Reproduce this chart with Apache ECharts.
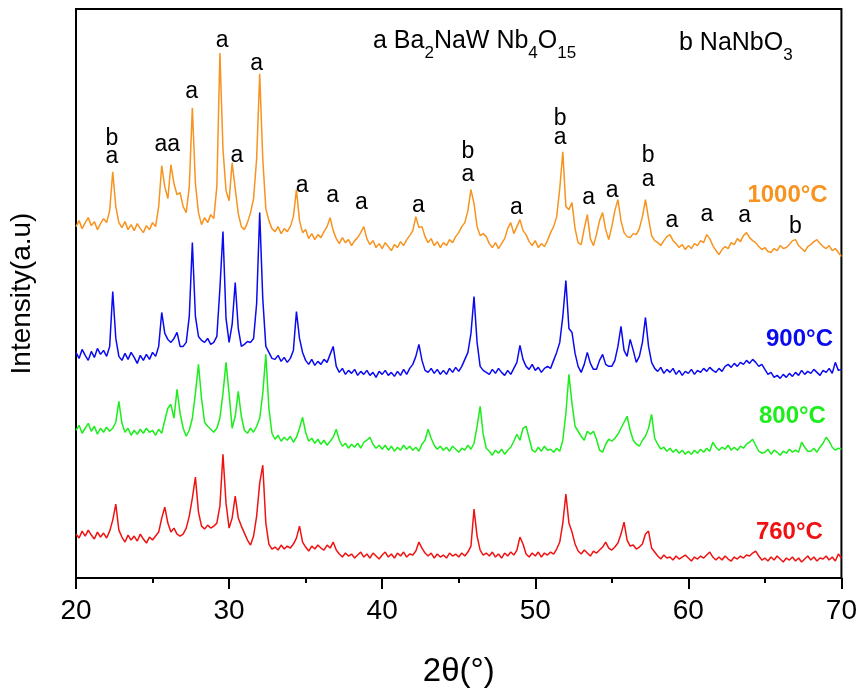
<!DOCTYPE html>
<html><head><meta charset="utf-8">
<script src="https://cdn.jsdelivr.net/npm/echarts@6/dist/echarts.min.js"></script>
<style>html,body{margin:0;padding:0;background:#fff}#c{width:860px;height:693px}</style>
</head><body><div id="c"></div>
<script>
// 2θ sampling: 20.0 .. 70.0, step 0.2 (rows below = one degree each)
const thetaStart = 20, thetaStep = 0.2;

// Offset intensities (a.u.)
const int1000 = [
352,358,350,356,361, 353,357,349,355,360, 356,368,407,372,356, 351,357,349,354,348,
355,350,346,353,349, 356,352,372,413,392, 380,414,395,384,386, 372,366,392,471,395,
366,354,361,356,364, 360,392,526,430,388, 378,416,390,365,352, 349,356,366,380,420,
505,420,370,358,350, 347,352,345,350,347, 352,362,389,358,346, 349,340,345,339,344,
341,347,352,361,348, 340,335,341,336,339, 333,338,341,346,352, 340,334,338,331,335,
330,336,332,328,334, 331,337,333,339,343, 348,362,351,352,342, 336,340,333,337,331,
336,333,339,336,342, 346,352,356,368,389, 375,352,343,345,342, 335,331,336,330,335,
340,350,356,345,352, 359,348,344,337,333, 338,331,335,332,338, 346,352,362,390,427,
372,369,376,350,336, 334,350,364,340,333, 344,358,366,349,339, 352,368,379,358,346,
342,341,345,344,350, 362,379,360,343,338, 336,333,338,342,344, 338,335,331,334,329,
333,330,335,333,338, 336,344,340,333,328, 324,329,332,330,336, 334,340,337,343,346,
341,338,336,332,329, 331,327,326,330,328, 333,330,331,334,338, 339,333,330,327,332,
334,337,339,335,332, 330,333,328,330,326, 322];

const int900 = [
226,220,229,223,218, 227,221,230,224,228, 222,232,287,240,222, 218,225,219,226,221,
215,223,218,224,219, 226,222,232,266,245, 239,236,240,246,232, 232,236,262,336,262,
242,238,236,240,234, 236,242,290,347,260, 236,254,296,250,232, 234,237,236,240,275,
366,280,232,226,220, 219,223,217,221,216, 220,228,267,240,226, 218,214,219,213,217,
214,219,216,224,232, 212,206,210,204,208, 205,209,203,207,204, 208,203,206,201,207,
204,208,203,206,202, 207,203,209,204,210, 214,222,234,218,208, 206,210,205,209,204,
208,204,210,206,211, 207,212,219,226,245, 282,236,212,208,206, 204,209,205,210,206,
203,208,204,210,216, 233,219,212,209,214, 208,211,206,210,212, 210,218,226,236,262,
298,250,246,225,212, 206,214,226,215,209, 209,218,224,214,212, 212,218,232,252,228,
222,239,228,216,222, 236,261,232,216,210, 207,211,205,209,206, 210,204,208,203,207,
205,209,204,208,206, 210,207,211,208,206, 210,207,212,214,211, 215,212,216,214,218,
215,219,216,212,214, 209,204,206,201,203, 200,204,201,205,202, 206,203,208,204,207,
205,209,206,203,208, 206,210,205,216,208, 209];

const int800 = [
148,153,145,150,155, 147,152,144,150,146, 151,147,150,156,177, 155,146,150,143,148,
144,149,145,150,146, 148,143,149,145,158, 170,174,160,189,165, 150,142,148,160,185,
214,180,156,152,149, 146,150,160,185,216, 185,150,162,187,162, 148,145,150,146,152,
160,185,224,170,145, 139,143,137,141,138, 142,136,141,150,161, 146,137,140,135,139,
134,138,133,137,141, 149,138,132,135,130, 134,131,135,130,136, 138,141,134,130,133,
129,133,128,132,127, 131,128,133,129,132, 128,131,127,134,138, 149,140,133,129,132,
128,131,127,132,129, 126,130,128,133,129, 135,152,172,144,130, 127,123,128,125,129,
124,128,131,137,144, 138,150,152,140,128, 126,131,127,132,128, 129,126,130,127,138,
165,204,175,152,147, 142,138,147,144,147, 139,128,126,134,139, 137,140,144,150,156,
162,148,138,134,132, 138,142,150,164,140, 134,129,131,127,130, 126,129,125,128,124,
127,124,128,125,129, 126,130,127,136,131, 128,131,129,133,128, 131,128,132,130,134,
136,139,133,127,125, 126,129,124,128,126, 123,127,125,129,126, 128,126,136,131,127,
127,130,126,131,135, 141,137,131,128,130, 129];

const int760 = [
44,40,47,42,48, 43,39,46,41,45, 40,47,58,74,48, 41,36,43,38,42,
37,44,39,35,41, 38,42,46,60,71, 55,46,50,44,42, 44,50,62,80,101,
66,52,49,53,50, 52,55,72,124,75, 50,60,82,60,52, 45,38,33,42,62,
95,113,55,34,29, 31,28,33,29,32, 30,34,40,52,36, 31,27,32,29,33,
30,28,33,30,36, 28,24,21,25,22, 24,20,23,26,21, 24,20,25,22,19,
23,26,21,24,20, 25,22,26,21,24, 23,27,36,30,25, 22,25,20,24,21,
23,20,25,22,24, 21,25,22,26,32, 69,42,28,23,25, 22,26,21,24,20,
25,22,26,23,28, 41,34,24,21,25, 22,26,21,25,23, 26,24,29,36,55,
84,55,46,34,27, 24,28,25,22,27, 25,28,31,36,30, 28,31,35,44,56,
38,32,33,29,31, 34,44,47,30,26, 22,19,23,20,21, 18,22,19,21,23,
20,17,21,19,22, 20,23,26,21,18, 21,18,22,19,17, 21,19,22,20,23,
22,25,27,22,18, 20,17,21,18,22, 19,16,20,18,21, 17,20,16,19,22,
18,21,17,20,19, 22,18,21,17,24, 20];

const sampleNames = ['1000°C', '900°C', '800°C', '760°C'];
const sampleLabelTheta = [66.48, 67.26, 66.8, 66.6];
const sampleLabelValue = [383, 239, 162, 46];

// Phase marks (a = Ba2NaWNb4O15, b = NaNbO3)
const phaseText  = ['b','a','aa','a','a','a','a','a','a','a','a','b','a','a','b','a','a','a','b','a','a','a','a','b'];
const phaseTheta = [22.35,22.35,25.96,27.55,29.55,31.80,30.51,34.77,36.76,38.65,42.37,45.6,45.6,48.77,51.62,51.62,53.49,55.03,57.38,57.38,58.92,61.21,63.67,67.00];
const phaseValue = [440,422,434,487,538,515,423,393,383,376,373,427,404,371,460,441,381,388,423,399,358,364,363,352];

// Phase key: pieces of text, true = subscript
const keyA = [['a Ba', false], ['2', true], ['NaW Nb', false], ['4', true], ['O', false], ['15', true]];
const keyB = [['b NaNbO', false], ['3', true]];

const xTicks = [20, 30, 40, 50, 60, 70];

const twoTheta = int1000.map((_, i) => +(thetaStart + i * thetaStep).toFixed(1));
const colors = ['#F7931E', '#0A0AF0', '#1CEE1C', '#F01212'];
const FONT = '"Liberation Sans", Arial, Helvetica, sans-serif';
const MAIN_FONT = '25px ' + FONT, SUB_FONT = '17px ' + FONT;

const curves = [int1000, int900, int800, int760];
const series = curves.map((arr, k) => ({
  type: 'line', name: sampleNames[k], showSymbol: false, symbol: 'none',
  data: arr.map((v, i) => [twoTheta[i], v]),
  lineStyle: { color: colors[k], width: 1.5 }, itemStyle: { color: colors[k] },
  silent: true, animation: false, z: 2
}));

series.push({
  type: 'scatter', silent: true, animation: false, symbolSize: 1,
  itemStyle: { color: 'rgba(0,0,0,0)', opacity: 1 },
  data: phaseText.map((t, i) => [phaseTheta[i], phaseValue[i], t]),
  label: { show: true, position: 'inside', formatter: p => p.data[2],
           color: '#000', opacity: 1, fontSize: 23, fontFamily: FONT },
  z: 5
});

series.push({
  type: 'scatter', silent: true, animation: false, symbolSize: 1,
  itemStyle: { color: 'rgba(0,0,0,0)', opacity: 1 },
  data: sampleNames.map((n, i) => ({ name: n, value: [sampleLabelTheta[i], sampleLabelValue[i]],
                                      label: { color: colors[i] } })),
  label: { show: true, position: 'inside', formatter: '{b}', opacity: 1,
           fontSize: 24, fontWeight: 'bold', fontFamily: FONT },
  z: 5
});

// Lay out a formula (with subscripts) as consecutive text pieces
const measureCtx = document.createElement('canvas').getContext('2d');
function formulaGraphics(pieces, x0, yMid, subDrop) {
  const out = [];
  let x = x0;
  pieces.forEach(([txt, sub]) => {
    const font = sub ? SUB_FONT : MAIN_FONT;
    measureCtx.font = font;
    out.push({ type: 'text', x: x, y: yMid + (sub ? subDrop : 0), silent: true, z: 10,
               style: { text: txt, font: font, fill: '#000', align: 'left', verticalAlign: 'middle' } });
    x += measureCtx.measureText(txt).width;
  });
  return out;
}

const chart = echarts.init(document.getElementById('c'), null, { renderer: 'canvas' });
chart.setOption({
  backgroundColor: '#fff',
  animation: false,
  grid: { left: 76, right: 18, top: 9, bottom: 114, show: true, borderColor: '#000', borderWidth: 2, backgroundColor: 'transparent' },
  xAxis: {
    type: 'value', min: xTicks[0], max: xTicks[xTicks.length - 1], interval: 10,
    name: '2θ(°)', nameLocation: 'middle', nameGap: 77,
    nameTextStyle: { fontSize: 33, color: '#000', fontFamily: FONT },
    axisLine: { show: true, lineStyle: { color: '#000', width: 2 } },
    axisTick: { show: true, length: 11, lineStyle: { color: '#000', width: 2 } },
    minorTick: { show: true, splitNumber: 2, length: 5, lineStyle: { color: '#000', width: 2 } },
    axisLabel: { fontSize: 28, color: '#000', margin: 19, fontFamily: FONT },
    splitLine: { show: false }, minorSplitLine: { show: false }
  },
  yAxis: {
    type: 'value', min: 0, max: 570,
    name: 'Intensity(a.u)', nameLocation: 'middle', nameGap: 40, nameRotate: 90,
    nameTextStyle: { fontSize: 28, color: '#000', fontFamily: FONT },
    axisLine: { show: true, lineStyle: { color: '#000', width: 2 } },
    axisTick: { show: false }, axisLabel: { show: false }, splitLine: { show: false }
  },
  graphic: [].concat(formulaGraphics(keyA, 373, 41, 12), formulaGraphics(keyB, 679, 43, 12)),
  series: series
});
</script>
</body></html>
